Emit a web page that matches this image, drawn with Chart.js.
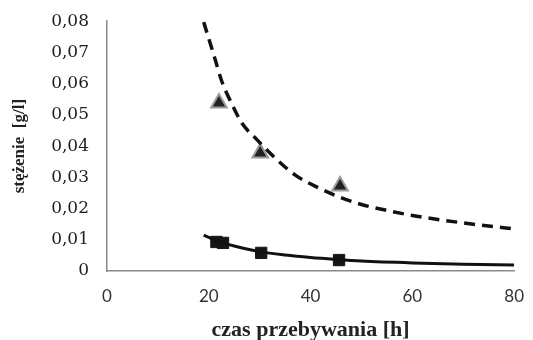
<!DOCTYPE html>
<html><head><meta charset="utf-8">
<script src="https://cdn.jsdelivr.net/npm/chart.js@4"></script>
<style>html,body{margin:0;padding:0;background:#fff}#wrap{width:533px;height:340px}</style>
</head><body><div id="wrap"><canvas id="c" width="533" height="340"></canvas></div>
<script>
const xTicks = [0, 20, 40, 60, 80];
const yTicks = [0, 0.01, 0.02, 0.03, 0.04, 0.05, 0.06, 0.07, 0.08];
const triangleX = [22, 30.1, 45.8];
const triangleY = [0.0538, 0.0378, 0.0272];
const squareX = [21.5, 22.8, 30.3, 45.6];
const squareY = [0.0093, 0.0090, 0.0058, 0.0035];
const dashedX = [19, 21.3, 22.5, 24.5, 26.5, 29.5, 33.5, 37, 41.5, 45.5, 50, 55, 60, 65, 70, 75, 80];
const dashedY = [0.0797, 0.0675, 0.061, 0.0536, 0.0474, 0.042, 0.0355, 0.0307, 0.0267, 0.0238, 0.0213, 0.0194, 0.0178, 0.0165, 0.0154, 0.0144, 0.0135];
const solidX = [19, 22, 25, 30, 35, 40, 45, 50, 60, 70, 80];
const solidY = [0.0115, 0.0094, 0.008, 0.0062, 0.0051, 0.0043, 0.0037, 0.0032, 0.0026, 0.0022, 0.0019];

const pts = (xs, ys) => xs.map((x, i) => ({x, y: ys[i]}));

new Chart(document.getElementById('c'), {
  type: 'scatter',
  data: {
    datasets: [
      {data: pts(dashedX, dashedY), showLine: true, borderColor: '#111', borderWidth: 3.5, borderDash: [11, 7], pointRadius: 0, cubicInterpolationMode: 'monotone', fill: false},
      {data: pts(solidX, solidY), showLine: true, borderColor: '#111', borderWidth: 3, pointRadius: 0, cubicInterpolationMode: 'monotone', fill: false},
      {data: pts(triangleX, triangleY), pointStyle: 'triangle', pointRadius: 9, backgroundColor: '#222', borderColor: '#9a9a9a', borderWidth: 2},
      {data: pts(squareX, squareY), pointStyle: 'rect', pointRadius: 8, backgroundColor: '#161616', borderColor: '#161616', borderWidth: 1}
    ]
  },
  options: {
    responsive: false, animation: false,
    layout: {padding: {top: 21, right: 12, left: 0, bottom: 0}},
    plugins: {legend: {display: false}, tooltip: {enabled: false}},
    scales: {
      x: {
        type: 'linear', min: 0, max: 80,
        afterBuildTicks: s => { s.ticks = xTicks.map(v => ({value: v})); },
        afterFit: s => { s.height = 69; },
        grid: {display: false, drawOnChartArea: false, drawTicks: true, tickLength: 6, color: '#8a8a8a'},
        border: {color: '#8a8a8a', width: 1.5},
        ticks: {color: '#333', font: {family: 'Lato', size: 17}, padding: 9},
        title: {display: true, text: 'czas przebywania [h]', color: '#222', font: {family: 'Liberation Serif', size: 22, weight: 'bold'}, padding: {top: 0, bottom: -4}}
      },
      y: {
        type: 'linear', min: 0, max: 0.08,
        afterBuildTicks: s => { s.ticks = yTicks.map(v => ({value: v})); },
        afterFit: s => { s.width = 107; },
        grid: {display: false, drawOnChartArea: false, drawTicks: true, tickLength: 7, color: '#8a8a8a'},
        border: {color: '#8a8a8a', width: 1.5},
        ticks: {color: '#1e1e1e', font: {family: 'DejaVu Serif', size: 17}, padding: 11,
          callback: v => v === 0 ? '0' : v.toFixed(2).replace('.', ',')},
        title: {display: true, text: 'stężenie  [g/l]', color: '#222', font: {family: 'Liberation Serif', size: 17, weight: 'bold'}, padding: {top: 9, bottom: 0}}
      }
    }
  }
});
</script>
</body></html>
